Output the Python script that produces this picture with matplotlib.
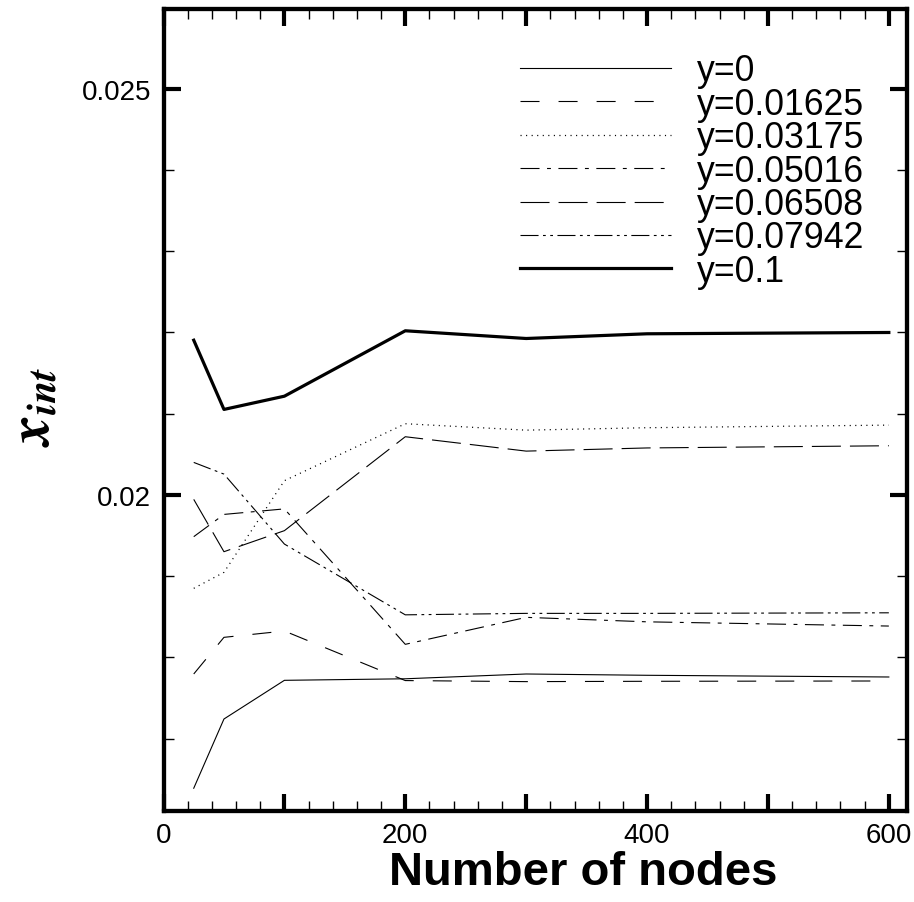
import matplotlib
matplotlib.use("Agg")
import matplotlib.pyplot as plt
from matplotlib.ticker import MultipleLocator, FuncFormatter

plt.rcParams['font.family'] = ['Liberation Sans', 'DejaVu Sans']
plt.rcParams['mathtext.fontset'] = 'stix'
plt.rcParams['lines.scale_dashes'] = False

# grid sizes and interface position for each y station
nodes = [25, 50, 100, 200, 300, 400, 600]
x_y0 = [0.016390, 0.017242, 0.017718, 0.017737, 0.017796, 0.017780, 0.017759]
x_y01625 = [0.017796, 0.018247, 0.018325, 0.017715, 0.017702, 0.017706, 0.017710]
x_y03175 = [0.018850, 0.019047, 0.020175, 0.020876, 0.020797, 0.020827, 0.020859]
x_y05016 = [0.019486, 0.019760, 0.019828, 0.018161, 0.018493, 0.018438, 0.018386]
x_y06508 = [0.019945, 0.019301, 0.019560, 0.020716, 0.020539, 0.020578, 0.020605]
x_y07942 = [0.020400, 0.020256, 0.019395, 0.018524, 0.018542, 0.018542, 0.018549]
x_y1 = [0.021904, 0.021052, 0.021215, 0.022020, 0.021925, 0.021983, 0.021999]

labels = ['y=0', 'y=0.01625', 'y=0.03175', 'y=0.05016', 'y=0.06508', 'y=0.07942', 'y=0.1']
series = [x_y0, x_y01625, x_y03175, x_y05016, x_y06508, x_y07942, x_y1]

# dash patterns in points
styles = [
    dict(ls='-', lw=0.8),
    dict(ls=(0, (13.7, 13.7)), lw=0.8),
    dict(ls=(0, (0.8, 3.2)), lw=0.9),
    dict(ls=(0, (13.7, 5.4, 2.8, 5.4)), lw=0.8),
    dict(ls=(0, (20.9, 6.5)), lw=0.8),
    dict(ls=(0, (13.0, 3.2, 2.0, 3.2, 2.0, 3.2)), lw=0.8),
    dict(ls='-', lw=2.3),
]

fig = plt.figure(figsize=(9.14, 9.03), dpi=100)
ax = fig.add_axes([0.1789, 0.1008, 0.8134, 0.8881])

handles = []
for vals, lab, st in zip(series, labels, styles):
    h, = ax.plot(nodes, vals, color='black', label=lab, **st)
    handles.append(h)

ax.set_xlim(0, 615)
ax.set_ylim(0.01611, 0.02598)

ax.xaxis.set_major_locator(MultipleLocator(100))
ax.xaxis.set_minor_locator(MultipleLocator(20))
ax.xaxis.set_major_formatter(FuncFormatter(lambda v, p: '%d' % v if round(v) % 200 == 0 else ''))
ax.yaxis.set_major_locator(MultipleLocator(0.005))
ax.yaxis.set_minor_locator(MultipleLocator(0.001))
ax.yaxis.set_major_formatter(FuncFormatter(lambda v, p: ('%.3f' % v).rstrip('0')))

ax.tick_params(which='both', direction='in', top=True, right=True, labelsize=20)
ax.tick_params(which='major', length=12.5, width=3)
ax.tick_params(which='minor', length=7, width=1)
ax.tick_params(axis='x', pad=8)
ax.tick_params(axis='y', pad=9)
for s in ax.spines.values():
    s.set_linewidth(3.1)

ax.set_xlabel('Number of nodes', fontsize=34, fontweight='bold')
ax.xaxis.set_label_coords(0.564, -0.049)
ax.set_ylabel(r'$\mathbfit{x}_{\mathbfit{int}}$', fontsize=42)
ax.yaxis.label.set_va('center')
ax.yaxis.set_label_coords(-0.173, 0.505)

ax.legend(handles=handles, loc='upper left', bbox_to_anchor=(0.569, 0.9397),
          bbox_transform=fig.transFigure, frameon=False, fontsize=25.7,
          handlelength=4.23, handletextpad=0.73, labelspacing=-0.045,
          borderpad=0, borderaxespad=0)

fig.savefig('out.png', dpi=100)
